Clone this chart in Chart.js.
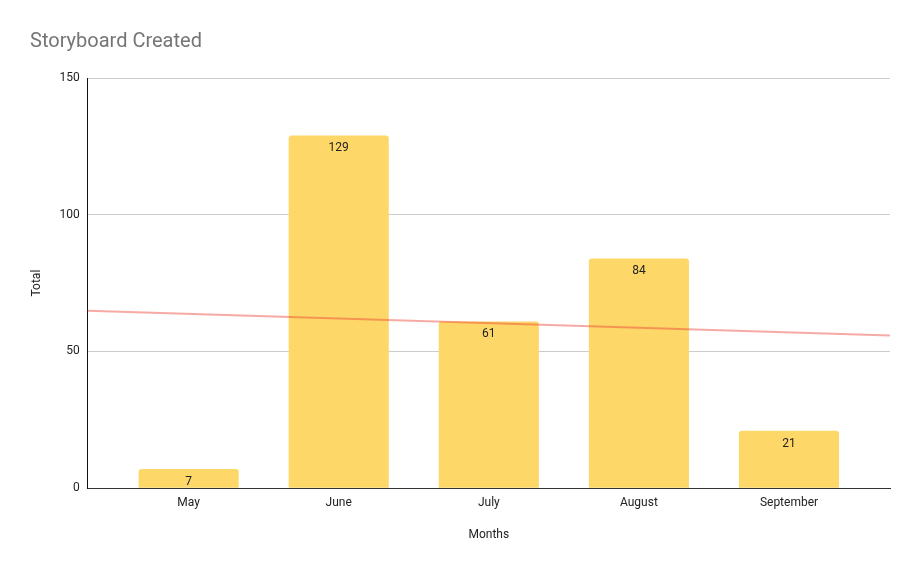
<!DOCTYPE html>
<html>
<head>
<meta charset="utf-8">
<script src="https://cdn.jsdelivr.net/npm/chart.js@4.4.1/dist/chart.umd.min.js"></script>
<style>
    html, body { margin: 0; padding: 0; background: #fff; }
    #wrap { width: 919px; height: 568px; position: relative; }
</style>
</head>
<body>
<div id="wrap"><canvas id="storyChart"></canvas></div>
<script>
// Storyboard data
const months = ['May', 'June', 'July', 'August', 'September'];
const totals = [7, 129, 61, 84, 21];
const yTicks = [0, 50, 100, 150];
// Trendline end values, at the plot's left and right edges
const trendY = [64.9, 55.8];

// space between the plot edge and the first/last bar centre, in category units
const edgePad = 0.673;
const xMin = -edgePad;
const xMax = months.length - 1 + edgePad;

// Value labels just inside the top of each bar
const barLabels = {
    id: 'barLabels',
    afterDatasetsDraw(chart) {
        const ctx = chart.ctx;
        const meta = chart.getDatasetMeta(0);
        ctx.save();
        ctx.font = '12px Roboto';
        ctx.fillStyle = '#222222';
        ctx.textAlign = 'center';
        ctx.textBaseline = 'middle';
        meta.data.forEach((bar, i) => {
            ctx.fillText(totals[i], bar.x, bar.y + 13);
        });
        ctx.restore();
    }
};

// Trendline drawn over the bars through the chart's own scales
const trendLine = {
    id: 'trendLine',
    afterDatasetsDraw(chart) {
        const ctx = chart.ctx;
        const xs = chart.scales.x;
        const ys = chart.scales.y;
        const ends = [xMin, xMax];
        ctx.save();
        ctx.strokeStyle = 'rgba(234, 67, 53, 0.45)';
        ctx.lineWidth = 2;
        ctx.beginPath();
        ends.forEach((x, i) => {
            const px = xs.getPixelForValue(x);
            const py = ys.getPixelForValue(trendY[i]);
            if (i === 0) ctx.moveTo(px, py); else ctx.lineTo(px, py);
        });
        ctx.stroke();
        ctx.restore();
    }
};

const ctx = document.getElementById('storyChart').getContext('2d');
new Chart(ctx, {
    type: 'bar',
    data: {
        datasets: [{
            label: 'Total',
            data: totals.map((v, i) => ({ x: i, y: v })),
            backgroundColor: '#fdd868',
            borderRadius: { topLeft: 3, topRight: 3 },
            borderSkipped: 'start',
            categoryPercentage: 0.667,
            barPercentage: 1
        }]
    },
    options: {
        responsive: true,
        maintainAspectRatio: false,
        animation: false,
        layout: {
            padding: { left: 30, right: 29, top: 0, bottom: 26 }
        },
        plugins: {
            legend: { display: false },
            tooltip: { enabled: false },
            title: {
                display: true,
                text: 'Storyboard Created',
                align: 'start',
                color: '#757575',
                font: { family: 'Roboto', size: 20, weight: 'normal' },
                padding: { top: 30, bottom: 24 }
            }
        },
        scales: {
            x: {
                type: 'linear',
                offset: false,
                min: xMin,
                max: xMax,
                afterBuildTicks: function(axis) {
                    axis.ticks = months.map((m, i) => ({ value: i }));
                },
                grid: { display: false, offset: false },
                border: { display: true, color: '#333333', width: 1 },
                ticks: {
                    color: '#222222',
                    font: { family: 'Roboto', size: 12 },
                    padding: 0,
                    maxRotation: 0,
                    callback: function(value) {
                        return months[value];
                    }
                },
                title: {
                    display: true,
                    text: 'Months',
                    color: '#222222',
                    font: { family: 'Roboto', size: 12 },
                    padding: { top: 17, bottom: 0 }
                }
            },
            y: {
                min: 0,
                max: 150,
                afterBuildTicks: function(axis) {
                    axis.ticks = yTicks.map(v => ({ value: v }));
                },
                grid: { color: '#cccccc', drawTicks: false },
                border: { display: true, color: '#111111', width: 1 },
                ticks: {
                    color: '#222222',
                    font: { family: 'Roboto', size: 12 },
                    padding: 8
                },
                title: {
                    display: true,
                    text: 'Total',
                    color: '#222222',
                    font: { family: 'Roboto', size: 12 },
                    padding: { top: 0, bottom: 7 }
                }
            }
        }
    },
    plugins: [barLabels, trendLine]
});
</script>
</body>
</html>
